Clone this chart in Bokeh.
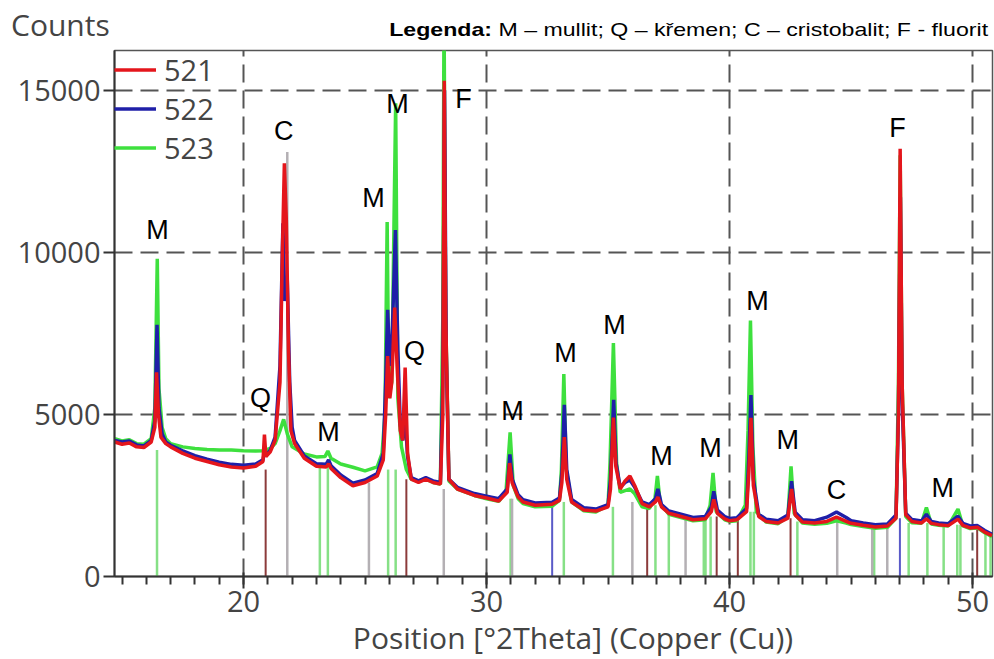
from bokeh.plotting import figure
from bokeh.models import Label, Legend, LegendItem, FixedTicker, Range1d, Div
from bokeh.layouts import column
from bokeh.embed import file_html
from bokeh.resources import INLINE

# ---------------- data ----------------
theta_521 = [14.7, 15.0, 15.3, 15.6, 15.9, 16.2, 16.35, 16.42, 16.5, 16.6, 16.8, 17.0, 17.5, 18.0, 18.5, 19.0,
             19.5, 20.0, 20.5, 20.8, 20.86, 20.92, 21.1, 21.3, 21.5, 21.6, 21.68, 21.76, 21.85, 21.95, 22.1,
             22.5, 23.0, 23.4, 23.5, 23.6, 24.0, 24.5, 25.0, 25.5, 25.75, 25.85, 25.93, 26.02, 26.1, 26.22,
             26.32, 26.45, 26.55, 26.65, 26.75, 26.9, 27.2, 27.5, 27.8, 28.1, 28.2, 28.26, 28.32, 28.45, 28.8,
             29.5, 30.0, 30.5, 30.85, 30.95, 31.05, 31.3, 31.5, 32.0, 32.7, 33.0, 33.1, 33.2, 33.3, 33.5, 34.0,
             34.5, 35.0, 35.1, 35.22, 35.32, 35.5, 35.7, 35.9, 36.1, 36.4, 36.7, 36.95, 37.05, 37.2, 37.5, 38.0,
             38.5, 39.0, 39.25, 39.35, 39.5, 39.8, 40.0, 40.3, 40.7, 40.8, 40.88, 40.98, 41.2, 41.5, 42.0, 42.4,
             42.55, 42.7, 43.0, 43.5, 44.0, 44.4, 44.8, 45.0, 45.5, 46.0, 46.5, 46.85, 46.95, 47.02, 47.1, 47.25,
             47.5, 47.9, 48.1, 48.3, 48.6, 49.0, 49.4, 49.6, 49.9, 50.2, 50.5, 50.8]
counts_521 = [4150, 4080, 4120, 4000, 3980, 4150, 4600, 6300, 5000, 4300, 4100, 4000, 3800, 3650, 3550, 3450,
              3380, 3350, 3400, 3550, 4380, 3700, 3850, 4200, 6000, 10000, 12750, 11000, 7000, 4500, 4100,
              3650, 3400, 3380, 3480, 3330, 3050, 2800, 2900, 3100, 3600, 5000, 6800, 5500, 6000, 8300,
              6500, 4500, 4200, 6450, 3800, 3000, 2900, 3000, 2900, 2850, 5000, 15300, 8000, 3000, 2700,
              2500, 2420, 2330, 2600, 3500, 2900, 2450, 2300, 2200, 2230, 2350, 2900, 4300, 3000, 2300, 2050,
              2020, 2150, 2700, 4900, 3400, 2700, 2950, 3100, 2800, 2250, 2150, 2300, 2450, 2150, 1950, 1850,
              1750, 1780, 2000, 2380, 1950, 1780, 1720, 1750, 2000, 3300, 4900, 2800, 1850, 1700, 1650, 1800,
              2700, 1900, 1680, 1650, 1700, 1830, 1700, 1640, 1580, 1530, 1560, 1800, 5000, 13200, 6000, 1900,
              1700, 1650, 1780, 1640, 1600, 1570, 1770, 1580, 1500, 1520, 1370, 1260]

theta_522 = [14.7, 15.0, 15.3, 15.6, 15.9, 16.2, 16.35, 16.44, 16.52, 16.65, 16.8, 17.0, 17.5, 18.0, 18.5, 19.0,
             19.5, 20.0, 20.5, 20.8, 20.88, 20.95, 21.1, 21.3, 21.5, 21.62, 21.7, 21.8, 21.9, 22.0, 22.1,
             22.5, 23.0, 23.4, 23.5, 23.6, 24.0, 24.5, 25.0, 25.5, 25.75, 25.85, 25.93, 26.02, 26.12, 26.25,
             26.35, 26.45, 26.55, 26.65, 26.75, 26.9, 27.2, 27.5, 27.8, 28.1, 28.2, 28.27, 28.34, 28.45, 28.8,
             29.5, 30.0, 30.5, 30.85, 30.96, 31.06, 31.3, 31.5, 32.0, 32.7, 33.0, 33.1, 33.2, 33.3, 33.5, 34.0,
             34.5, 35.0, 35.1, 35.23, 35.33, 35.5, 35.7, 35.9, 36.1, 36.4, 36.7, 36.95, 37.05, 37.2, 37.5, 38.0,
             38.5, 39.0, 39.25, 39.35, 39.5, 39.8, 40.0, 40.3, 40.7, 40.8, 40.88, 40.98, 41.2, 41.5, 42.0, 42.4,
             42.55, 42.7, 43.0, 43.5, 44.0, 44.4, 44.8, 45.0, 45.5, 46.0, 46.5, 46.85, 46.95, 47.03, 47.1, 47.25,
             47.5, 47.9, 48.1, 48.3, 48.6, 49.0, 49.4, 49.6, 49.9, 50.2, 50.5, 50.8]
counts_522 = [4200, 4150, 4180, 4060, 4030, 4200, 4800, 7770, 5200, 4400, 4150, 4050, 3880, 3730, 3620, 3530,
              3460, 3430, 3470, 3600, 3900, 3750, 3900, 4300, 6500, 10900, 8500, 9150, 6000, 4600, 4200,
              3720, 3480, 3460, 3600, 3420, 3130, 2880, 2980, 3180, 3800, 6000, 8230, 6500, 7500, 10690,
              7000, 4700, 4200, 5000, 3700, 3050, 2950, 3050, 2950, 2900, 6000, 15000, 7000, 3000, 2750,
              2560, 2480, 2400, 2700, 3770, 3000, 2520, 2370, 2270, 2290, 2420, 3200, 5300, 3300, 2380, 2120,
              2080, 2220, 3000, 5450, 3500, 2750, 2900, 2980, 2750, 2300, 2220, 2400, 2700, 2220, 2020, 1920,
              1820, 1850, 2150, 2630, 2050, 1850, 1790, 1810, 2100, 3800, 5600, 3000, 1920, 1770, 1720, 1900,
              2940, 1980, 1750, 1720, 1830, 1990, 1820, 1720, 1650, 1600, 1620, 1900, 5000, 11700, 5500, 1950,
              1760, 1710, 1920, 1700, 1650, 1630, 1860, 1640, 1560, 1570, 1420, 1300]

theta_523 = [14.7, 15.0, 15.3, 15.6, 15.9, 16.2, 16.35, 16.45, 16.52, 16.65, 16.8, 17.0, 17.5, 18.0, 18.5, 19.0,
             19.5, 20.0, 20.5, 20.8, 21.1, 21.3, 21.5, 21.65, 21.8, 22.0, 22.5, 23.0, 23.35, 23.47, 23.6,
             24.0, 24.5, 25.0, 25.5, 25.7, 25.82, 25.91, 25.98, 26.1, 26.26, 26.35, 26.5, 26.7, 26.9, 27.2,
             27.5, 27.8, 28.1, 28.2, 28.25, 28.32, 28.45, 28.8, 29.5, 30.0, 30.5, 30.8, 30.97, 31.1, 31.3,
             31.5, 32.0, 32.7, 33.0, 33.08, 33.18, 33.28, 33.5, 34.0, 34.5, 35.0, 35.08, 35.22, 35.35, 35.5,
             35.7, 35.9, 36.1, 36.4, 36.7, 36.93, 37.03, 37.15, 37.5, 38.0, 38.5, 39.0, 39.2, 39.32, 39.45,
             39.8, 40.0, 40.3, 40.65, 40.76, 40.86, 40.96, 41.1, 41.5, 42.0, 42.4, 42.53, 42.66, 43.0, 43.5,
             44.0, 44.4, 44.8, 45.0, 45.5, 46.0, 46.5, 46.85, 46.95, 47.02, 47.1, 47.25, 47.5, 47.9, 48.1,
             48.3, 48.6, 49.0, 49.4, 49.6, 49.9, 50.2, 50.5, 50.8]
counts_523 = [4250, 4180, 4220, 4100, 4080, 4250, 5200, 9800, 5800, 4600, 4250, 4100, 4000, 3950, 3920, 3900,
              3900, 3880, 3870, 3880, 3950, 4100, 4500, 4850, 4400, 4000, 3780, 3690, 3700, 3870, 3650,
              3470, 3370, 3260, 3380, 3800, 5000, 10940, 5500, 6000, 14600, 5500, 4000, 3300, 3000, 2950,
              3000, 2900, 2850, 8000, 17500, 8000, 2950, 2700, 2500, 2400, 2320, 2600, 4450, 2800, 2400,
              2250, 2150, 2170, 2350, 3300, 6250, 3300, 2300, 2030, 1990, 2200, 3500, 7200, 3500, 2600,
              2650, 2700, 2550, 2150, 2100, 2400, 3100, 2250, 1920, 1820, 1720, 1750, 2200, 3200, 2000,
              1750, 1700, 1720, 2200, 4500, 7900, 4000, 2000, 1680, 1630, 1850, 3400, 1950, 1650, 1610,
              1640, 1720, 1650, 1600, 1540, 1490, 1520, 1800, 6000, 13000, 6000, 1850, 1660, 1640, 2130,
              1620, 1580, 1560, 2080, 1560, 1480, 1500, 1350, 1230]

# reference stick patterns (position in deg 2theta, visible height in counts)
mullite_pos = [16.44, 23.14, 23.47, 25.95, 26.26, 30.99, 33.18, 35.20, 36.95, 37.50, 38.94, 39.01, 39.22,
               40.86, 41.00, 42.79, 45.95, 47.37, 48.14, 48.81, 49.37, 49.50, 50.53, 50.74]
mullite_h = [3900, 3400, 3450, 3300, 3300, 2400, 2300, 2150, 2200, 1950, 1780, 1780, 1850,
             2000, 2000, 1700, 1550, 1650, 1650, 1600, 1600, 1600, 1400, 1300]
quartz_pos = [20.91, 26.70, 36.61, 39.47, 40.34, 42.51, 50.19]
quartz_h = [3300, 3000, 2100, 1850, 1750, 1800, 1500]
cristobalite_pos = [21.80, 25.16, 28.24, 31.05, 36.00, 38.19, 44.43, 45.87, 46.49]
cristobalite_h = [13100, 2900, 2700, 2400, 2300, 1800, 1750, 1550, 1550]
fluorite_pos = [32.70, 47.01]
fluorite_h = [2250, 1800]

series_names = ["521", "522", "523"]

annotations = [("M", 16.46, 10690), ("C", 21.65, 13740), ("Q", 20.7, 5520), ("M", 23.5, 4450),
               ("M", 25.35, 11680), ("M", 26.34, 14570), ("Q", 27.04, 6970), ("F", 29.05, 14720),
               ("M", 31.07, 5120), ("M", 33.25, 6890), ("M", 35.27, 7770), ("M", 37.2, 3710),
               ("M", 39.22, 3950), ("M", 41.15, 8510), ("M", 42.39, 4200), ("C", 44.4, 2660),
               ("F", 46.91, 13830), ("M", 48.77, 2720)]

x_major = [20, 30, 40, 50]
x_minor = list(range(15, 51))
y_major = [0, 5000, 10000, 15000]

y_title = "Counts"
x_title = "Position [°2Theta] (Copper (Cu))"
legend_head = "Legenda:"
legend_body = "M – mullit; Q – křemen; C – cristobalit; F - fluorit"

AX_FONT = "Open Sans"
AX_SIZE = "29px"
AX_COLOR = "#444444"

# ---------------- top text row ----------------
top_html = (
    '<div style="position:relative;width:994px;height:48px;">'
    f'<span style="position:absolute;left:11px;top:7px;font-family:\'Open Sans\';font-size:30px;'
    f'line-height:36px;color:{AX_COLOR};white-space:nowrap;">{y_title}</span>'
    '<span style="position:absolute;right:6px;top:19px;font-family:\'Liberation Sans\';font-size:18.5px;'
    'line-height:22px;color:#000;white-space:nowrap;transform:scaleX(1.25);transform-origin:right center;">'
    f'<b>{legend_head}</b> {legend_body}</span>'
    '</div>'
)
top_div = Div(text=top_html, width=994, height=48, margin=0)

# ---------------- figure ----------------
p = figure(width=994, height=590, output_backend="svg", toolbar_location=None,
           x_range=Range1d(14.69, 50.82), y_range=Range1d(0, 16230),
           min_border_left=114, min_border_right=2, min_border_top=2, min_border_bottom=62,
           margin=0)
p.background_fill_color = "white"
p.border_fill_color = "white"
p.outline_line_color = "#555555"
p.outline_line_width = 1.5

for ax in (p.xaxis, p.yaxis):
    ax.axis_line_color = "#333333"
    ax.axis_line_width = 2
    ax.major_tick_line_color = "#333333"
    ax.major_tick_line_width = 2
    ax.major_label_text_font = AX_FONT
    ax.major_label_text_font_size = AX_SIZE
    ax.major_label_text_color = AX_COLOR

p.xaxis.ticker = FixedTicker(ticks=x_major, minor_ticks=x_minor)
p.xaxis.major_tick_out = 12
p.xaxis.major_tick_in = 4
p.xaxis.minor_tick_out = 8
p.xaxis.minor_tick_in = 0
p.xaxis.minor_tick_line_color = "#333333"
p.xaxis.minor_tick_line_width = 2
p.xaxis.major_label_standoff = 2

p.yaxis.ticker = FixedTicker(ticks=y_major)
p.yaxis.major_tick_out = 11
p.yaxis.major_tick_in = 0
p.yaxis.minor_tick_line_color = None
p.yaxis.major_label_standoff = 3

p.xgrid.ticker = FixedTicker(ticks=x_major)
p.ygrid.ticker = FixedTicker(ticks=[5000, 10000, 15000])
for g in (p.xgrid, p.ygrid):
    g.grid_line_color = "#555555"
    g.grid_line_width = 2
    g.grid_line_dash = "18 8"

# sticks
p.segment(x0=mullite_pos, y0=0, x1=mullite_pos, y1=mullite_h, line_color="#86e086", line_width=2.5)
p.segment(x0=quartz_pos, y0=0, x1=quartz_pos, y1=quartz_h, line_color="#8c3b3b", line_width=2)
p.segment(x0=cristobalite_pos, y0=0, x1=cristobalite_pos, y1=cristobalite_h, line_color="#b4b0b4", line_width=2.5)
p.segment(x0=fluorite_pos, y0=0, x1=fluorite_pos, y1=fluorite_h, line_color="#5a5ac8", line_width=2)

# patterns
r523 = p.line(theta_523, counts_523, line_color="#3ee03e", line_width=3.5)
r522 = p.line(theta_522, counts_522, line_color="#1f1fa8", line_width=3.5)
r521 = p.line(theta_521, counts_521, line_color="#e4161c", line_width=3.5)

legend = Legend(items=[LegendItem(label=series_names[0], renderers=[r521]),
                       LegendItem(label=series_names[1], renderers=[r522]),
                       LegendItem(label=series_names[2], renderers=[r523])],
                location="top_left", margin=0, padding=0, spacing=0,
                glyph_width=42, glyph_height=39, label_height=39, label_standoff=8,
                border_line_color=None, background_fill_alpha=0,
                label_text_font=AX_FONT, label_text_font_size=AX_SIZE, label_text_color=AX_COLOR)
p.add_layout(legend)

for txt, xx, yy in annotations:
    p.add_layout(Label(x=xx, y=yy, text=txt, text_font="Liberation Sans", text_font_size="27px",
                       text_color="black", text_align="center", text_baseline="middle"))

# ---------------- bottom text row ----------------
bottom_html = (
    '<div style="position:relative;width:994px;height:21px;">'
    '<span style="position:absolute;left:0;width:994px;top:-18px;text-align:center;padding-left:152px;'
    f'box-sizing:border-box;font-family:\'Open Sans\';font-size:30px;line-height:36px;color:{AX_COLOR};'
    f'white-space:nowrap;">{x_title}</span>'
    '</div>'
)
bottom_div = Div(text=bottom_html, width=994, height=21, margin=0)

layout = column(top_div, p, bottom_div, spacing=0)

open("out.html", "w").write(file_html(layout, INLINE))
